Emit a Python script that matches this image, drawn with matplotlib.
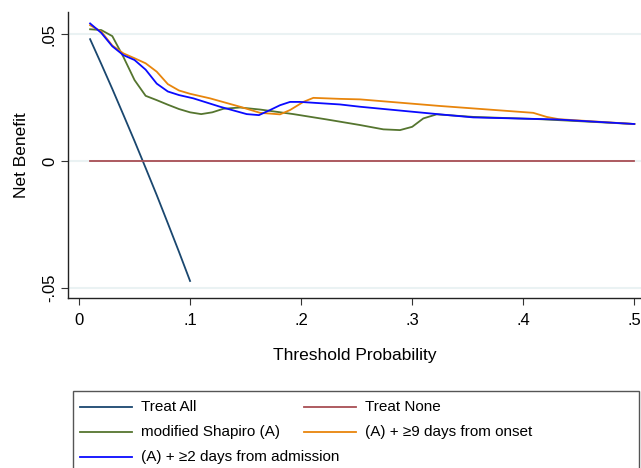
import matplotlib
matplotlib.use("Agg")
import matplotlib.pyplot as plt
from matplotlib.lines import Line2D
from matplotlib.patches import Rectangle

plt.rcParams['font.family'] = ['Liberation Sans', 'DejaVu Sans']

# ---- data ----
treat_all_x = [0.01, 0.02, 0.03, 0.04, 0.05, 0.06, 0.07, 0.08, 0.09, 0.10]
treat_all_y = [0.0480, 0.0383, 0.0284, 0.0182, 0.0079, -0.0027, -0.0134, -0.0245, -0.0357, -0.0472]

treat_none_x = [0.01, 0.50]
treat_none_y = [0.0, 0.0]

shapiro_x = [0.01, 0.02, 0.03, 0.04, 0.05, 0.06, 0.07, 0.08, 0.09, 0.10, 0.11, 0.12, 0.13, 0.145,
             0.163, 0.193, 0.223, 0.253, 0.274, 0.289, 0.30, 0.31, 0.322, 0.355, 0.415, 0.50]
shapiro_y = [0.0519, 0.0516, 0.0492, 0.0410, 0.0319, 0.0257, 0.0240, 0.0222, 0.0205, 0.0192, 0.0185,
             0.0192, 0.0206, 0.0211, 0.0203, 0.0185, 0.0164, 0.0142, 0.0125, 0.0122, 0.0135, 0.0168,
             0.0184, 0.0174, 0.0165, 0.0146]

onset_x = [0.01, 0.02, 0.03, 0.04, 0.05, 0.06, 0.07, 0.08, 0.09, 0.10, 0.118, 0.145, 0.163, 0.181,
           0.19, 0.202, 0.211, 0.235, 0.253, 0.325, 0.409, 0.421, 0.432, 0.50]
onset_y = [0.0535, 0.0510, 0.0455, 0.0424, 0.0405, 0.0385, 0.0352, 0.0303, 0.0278, 0.0265, 0.0247,
           0.0214, 0.0190, 0.0184, 0.0201, 0.0233, 0.0249, 0.0245, 0.0243, 0.0217, 0.0190, 0.0174,
           0.0165, 0.0146]

admission_x = [0.01, 0.02, 0.03, 0.04, 0.05, 0.06, 0.07, 0.08, 0.09, 0.103, 0.127, 0.151, 0.162,
               0.172, 0.181, 0.19, 0.199, 0.235, 0.253, 0.325, 0.355, 0.43, 0.50]
admission_y = [0.0542, 0.0505, 0.0452, 0.0417, 0.0398, 0.0360, 0.0305, 0.0274, 0.0260, 0.0247, 0.0214,
               0.0185, 0.0181, 0.0201, 0.0220, 0.0233, 0.0233, 0.0223, 0.0214, 0.0184, 0.0172, 0.0164,
               0.0146]

x_ticks = [0, 0.1, 0.2, 0.3, 0.4, 0.5]
x_ticklabels = ['0', '.1', '.2', '.3', '.4', '.5']
y_ticks = [-0.05, 0, 0.05]
y_ticklabels = ['-.05', '0', '.05']

labels = ['Treat All', 'Treat None', 'modified Shapiro (A)',
          '(A) + \u22659 days from onset', '(A) + \u22652 days from admission']
colors = ['#1a476f', '#a84e54', '#55752f', '#e8850c', '#0a0aff']

W, H = 641, 468
fig = plt.figure(figsize=(W / 100, H / 100), dpi=100)
ax = fig.add_axes([68 / W, (H - 298) / H, (641 - 68) / W, (298 - 12) / H])

ax.plot(treat_all_x, treat_all_y, color=colors[0], lw=1.3)
ax.plot(treat_none_x, treat_none_y, color=colors[1], lw=1.3)
ax.plot(shapiro_x, shapiro_y, color=colors[2], lw=1.3)
ax.plot(onset_x, onset_y, color=colors[3], lw=1.3)
ax.plot(admission_x, admission_y, color=colors[4], lw=1.3)

ax.set_xlim(-0.0099, 0.506)
ax.set_ylim(-0.0539, 0.0587)
ax.set_xticks(x_ticks)
ax.set_xticklabels(x_ticklabels, fontsize=12)
ax.set_yticks(y_ticks)
ax.set_yticklabels(y_ticklabels, fontsize=12, rotation=90, va='center')
ax.grid(axis='y', color='#eaf2f3', lw=1.5)
ax.set_axisbelow(True)
for s in ['top', 'right']:
    ax.spines[s].set_visible(False)
for s in ['left', 'bottom']:
    ax.spines[s].set_color('#222222')
    ax.spines[s].set_linewidth(1.0)
ax.tick_params(axis='x', direction='out', length=5, width=0.8, color='#333333', pad=6)
ax.tick_params(axis='y', direction='out', length=5, width=0.8, color='#333333', pad=3)
ax.set_xlabel('Threshold Probability', fontsize=12.5, labelpad=14)
ax.set_ylabel('Net Benefit', fontsize=12.5, labelpad=9)

# ---- legend box (Stata style) ----
def fx(px):
    return px / W

def fy(py):
    return 1 - py / H

fig.add_artist(Rectangle((fx(73), fy(478)), fx(639) - fx(73), fy(391) - fy(478),
                         transform=fig.transFigure, fill=False, edgecolor='#555555', lw=1.0))
entries = [(0, 80, 407), (1, 304, 407), (2, 80, 432), (3, 304, 432), (4, 80, 457)]
for idx, hx, ry in entries:
    fig.add_artist(Line2D([fx(hx), fx(hx + 52)], [fy(ry), fy(ry)], transform=fig.transFigure,
                          color=colors[idx], lw=1.3))
    fig.text(fx(hx + 61), fy(ry), labels[idx], fontsize=11, va='center', ha='left')

fig.savefig('out.png', dpi=100)
